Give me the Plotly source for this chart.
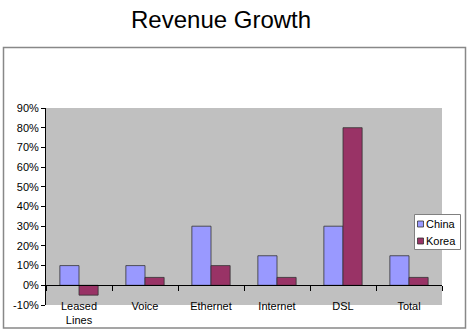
import plotly.graph_objects as go

categories = ["Leased<br>Lines", "Voice", "Ethernet", "Internet", "DSL", "Total"]
china = [0.10, 0.10, 0.30, 0.15, 0.30, 0.15]
korea = [-0.05, 0.04, 0.10, 0.04, 0.80, 0.04]
series_names = ["China", "Korea"]
colors = ["#9999FF", "#993366"]
y_ticks = [-0.1, 0.0, 0.1, 0.2, 0.3, 0.4, 0.5, 0.6, 0.7, 0.8, 0.9]
y_ticktext = ["-10%", "0%", "10%", "20%", "30%", "40%", "50%", "60%", "70%", "80%", "90%"]

W, H = 470, 331
L, R, T, B = 46, 442, 108, 305

def px(x):
    return (x - L) / (R - L)

def py(y):
    return (B - y) / (B - T)

FONT = "Arial, 'Liberation Sans', sans-serif"

fig = go.Figure()
for name, vals, col in zip(series_names, [china, korea], colors):
    fig.add_trace(go.Bar(
        x=categories, y=vals, name=name, marker_color=col,
        marker_line=dict(color="#333333", width=0.8),
        showlegend=False, xaxis="x", yaxis="y",
    ))

# invisible trace to bind the zero-line axis
fig.add_trace(go.Scatter(x=categories, y=[None]*len(categories), xaxis="x2", yaxis="y",
                         showlegend=False, hoverinfo="skip"))

fig.update_layout(
    width=W, height=H, autosize=False,
    margin=dict(l=L, r=W - R, t=T, b=H - B, pad=0, autoexpand=False),
    paper_bgcolor="white", plot_bgcolor="#C0C0C0",
    barmode="group", bargap=0.42, bargroupgap=0.0,
    font=dict(family=FONT, size=11, color="black"),
    xaxis=dict(
        type="category", showline=False, ticks="", showgrid=False, zeroline=False,
        tickfont=dict(family=FONT, size=11, color="black"),
        anchor="free", position=0.036, automargin=False,
    ),
    xaxis2=dict(
        type="category", overlaying="x", anchor="free", position=0.1,
        showline=True, linecolor="black", linewidth=1,
        ticks="outside", ticklen=5, tickcolor="black", tickwidth=1,
        tickson="boundaries", showticklabels=False, showgrid=False, zeroline=False,
        matches="x", automargin=False,
    ),
    yaxis=dict(
        range=[-0.1, 0.9], tickvals=y_ticks, ticktext=y_ticktext,
        showline=True, linecolor="black", linewidth=1,
        ticks="outside", ticklen=4, tickcolor="black",
        showgrid=False, zeroline=False, automargin=False,
        tickfont=dict(family=FONT, size=11, color="black"),
    ),
)

shapes = []
# chart frame
shapes.append(dict(type="rect", xref="paper", yref="paper",
                   x0=px(3.5), x1=px(465.5), y0=py(328), y1=py(47.5),
                   line=dict(color="#888888", width=1.5), fillcolor="rgba(0,0,0,0)", layer="below"))
# legend box
shapes.append(dict(type="rect", xref="paper", yref="paper",
                   x0=px(414.5), x1=px(460.5), y0=py(249.5), y1=py(214.5),
                   line=dict(color="#808080", width=1), fillcolor="white", layer="above"))
annotations = []
leg_y = [224, 241]
for name, col, yy in zip(series_names, colors, leg_y):
    shapes.append(dict(type="rect", xref="paper", yref="paper",
                       x0=px(417.5), x1=px(423.5), y0=py(yy + 3), y1=py(yy - 3),
                       line=dict(color="#333333", width=0.8), fillcolor=col, layer="above"))
    annotations.append(dict(xref="paper", yref="paper", x=px(424), y=py(yy),
                            xanchor="left", yanchor="middle", showarrow=False,
                            text=name, font=dict(family=FONT, size=11, color="black")))

annotations.append(dict(xref="paper", yref="paper", x=px(221), y=py(19),
                        xanchor="center", yanchor="middle", showarrow=False,
                        text="Revenue Growth", font=dict(family=FONT, size=24, color="black")))

fig.update_layout(shapes=shapes, annotations=annotations)
fig.write_html("out.html")
